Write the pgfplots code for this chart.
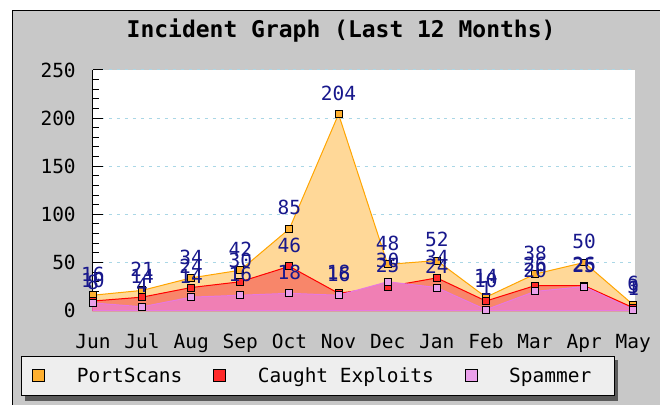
\documentclass[border=0pt]{standalone}
\usepackage{fontspec}
\usepackage{pgfplots}
\pgfplotsset{compat=1.18}
\usetikzlibrary{backgrounds}
\newfontfamily\mono{DejaVu Sans Mono}
\definecolor{bggray}{RGB}{200,200,200}
\definecolor{gridblue}{RGB}{170,215,230}
\definecolor{oline}{RGB}{255,165,0}
\definecolor{ofill}{RGB}{255,216,152}
\definecolor{omark}{RGB}{255,176,48}
\definecolor{rline}{RGB}{255,0,0}
\definecolor{rfill}{RGB}{248,134,106}
\definecolor{rmark}{RGB}{255,42,42}
\definecolor{pline}{RGB}{232,120,224}
\definecolor{pfill}{RGB}{240,127,180}
\definecolor{pmark}{RGB}{234,160,234}
\definecolor{legfill}{RGB}{238,238,238}
\definecolor{shadowgray}{RGB}{90,90,90}
\definecolor{valblue}{RGB}{24,24,140}
\pgfplotsset{/pgf/number format/assume math mode=true}
\pgfplotsset{layers/mylayers/.define layer set={background,axis background,axis grid,main,axis ticks,axis lines,axis tick labels,axis descriptions,axis foreground}{}}
\begin{document}
\begin{tikzpicture}[x=1pt,y=1pt]
\begin{scope}[on background layer]
\fill[white] (0,0) rectangle (661,405);
\fill[bggray] (12,0) rectangle (661,395);
\draw[black,line width=1.5pt] (12.75,0) -- (12.75,394.25) -- (661,394.25);
\fill[shadowgray] (25,4) rectangle (619,45);
\end{scope}
\node[font=\mono\bfseries\fontsize{23}{23}\selectfont] at (341.5,374) {Incident Graph (Last 12 Months)};
\begin{axis}[
  set layers=mylayers,
  at={(93pt,94pt)}, anchor=south west,
  scale only axis, width=543pt, height=241pt,
  xmin=0, xmax=11.04, ymin=0, ymax=250,
  axis x line*=bottom, axis y line*=left,
  axis line style={black,line width=1pt},
  axis background/.style={fill=white},
  xtick={0,1,2,3,4,5,6,7,8,9,10,11},
  xticklabels={Jun,Jul,Aug,Sep,Oct,Nov,Dec,Jan,Feb,Mar,Apr,May},
  ytick={0,50,100,150,200,250},
  minor y tick num=4,
  tick align=inside,
  major tick length=10pt, minor tick length=6pt,
  tick style={black,line width=1pt},
  ymajorgrids,
  grid style={dash pattern=on 3pt off 5pt, color=gridblue, line width=1pt},
  ticklabel style={font=\mono\fontsize{19.5}{19.5}\selectfont, inner sep=0pt},
  xticklabel style={anchor=base, yshift=-38pt},
  yticklabel style={anchor=east, xshift=-17pt},
  clip=false,
  nodes near coords,
  every node near coord/.append style={anchor=center, yshift=21pt, font=\mono\fontsize{19.5}{19.5}\selectfont, text=valblue, inner sep=0pt},
  legend columns=3,
  legend cell align=left,
  legend style={at={(-0.1326,-0.1867)}, anchor=north west,
    draw=black, line width=1pt, fill=legfill,
    inner xsep=11pt, inner ysep=11.5pt,
    font=\mono\fontsize{19.5}{19.5}\selectfont,
    nodes={inner sep=0pt},
    /tikz/every even column/.append style={column sep=31pt}},
]
\addplot[draw=oline, line width=1pt, fill=ofill, mark=square*, mark size=3.5pt,
  mark options={draw=black, fill=omark, line width=1pt},
  legend image code/.code={\draw[draw=black,line width=1pt,fill=omark] (0pt,-6pt) rectangle (12pt,6pt); \path[draw=none,fill=none] (0pt,0pt) -- (44pt,0pt);}]
  coordinates {(0,16) (1,21) (2,34) (3,42) (4,85) (5,204) (6,48) (7,52) (8,14) (9,38) (10,50) (11,6)} \closedcycle;
\addlegendentry{PortScans}
\addplot[draw=rline, line width=1pt, fill=rfill, mark=square*, mark size=3.5pt,
  mark options={draw=black, fill=rmark, line width=1pt},
  legend image code/.code={\draw[draw=black,line width=1pt,fill=rmark] (0pt,-6pt) rectangle (12pt,6pt); \path[draw=none,fill=none] (0pt,0pt) -- (44pt,0pt);}]
  coordinates {(0,10) (1,14) (2,24) (3,30) (4,46) (5,18) (6,25) (7,34) (8,10) (9,26) (10,26) (11,3)} \closedcycle;
\addlegendentry{Caught Exploits}
\addplot[draw=pline, line width=1pt, fill=pfill, mark=square*, mark size=3.5pt,
  mark options={draw=black, fill=pmark, line width=1pt},
  legend image code/.code={\draw[draw=black,line width=1pt,fill=pmark] (0pt,-6pt) rectangle (12pt,6pt); \path[draw=none,fill=none] (0pt,0pt) -- (44pt,0pt);}]
  coordinates {(0,8) (1,4) (2,14) (3,16) (4,18) (5,16) (6,30) (7,24) (8,1) (9,20) (10,25) (11,1)} \closedcycle;
\addlegendentry{Spammer\hspace*{12pt}}
\end{axis}
\end{tikzpicture}
\end{document}
